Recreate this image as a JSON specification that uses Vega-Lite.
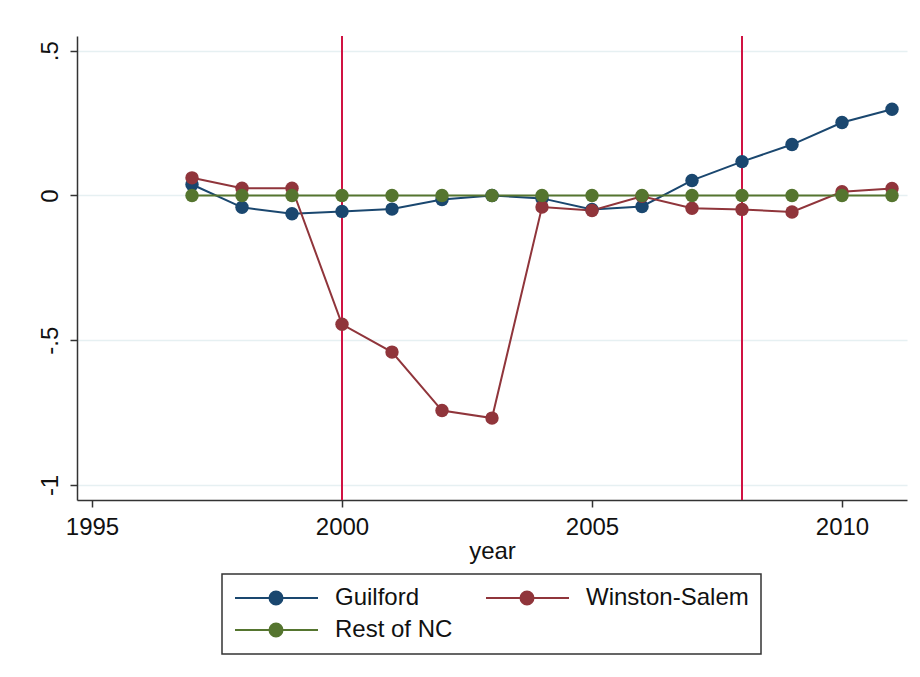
{
  "$schema": "https://vega.github.io/schema/vega-lite/v6.json",
  "width": 830,
  "height": 464,
  "autosize": {"type": "none"},
  "padding": {"left": 77, "top": 36, "right": 13, "bottom": 177},
  "background": "white",
  "config": {
    "font": "Liberation Sans",
    "view": {"stroke": null},
    "axis": {
      "labelFont": "Liberation Sans",
      "titleFont": "Liberation Sans",
      "labelFontSize": 24,
      "titleFontSize": 24,
      "labelColor": "#111111",
      "titleColor": "#111111",
      "titleFontWeight": "normal",
      "domainColor": "#333333",
      "domainWidth": 1.5,
      "tickColor": "#333333",
      "tickWidth": 1.5,
      "tickSize": 7
    },
    "legend": {
      "labelFont": "Liberation Sans",
      "labelFontSize": 24,
      "labelColor": "#111111"
    }
  },
  "datasets": {
    "series": [
      {"year": 1997, "group": "Guilford", "value": 0.038},
      {"year": 1998, "group": "Guilford", "value": -0.041},
      {"year": 1999, "group": "Guilford", "value": -0.063},
      {"year": 2000, "group": "Guilford", "value": -0.055},
      {"year": 2001, "group": "Guilford", "value": -0.047},
      {"year": 2002, "group": "Guilford", "value": -0.014},
      {"year": 2003, "group": "Guilford", "value": 0.0},
      {"year": 2004, "group": "Guilford", "value": -0.01},
      {"year": 2005, "group": "Guilford", "value": -0.048},
      {"year": 2006, "group": "Guilford", "value": -0.038},
      {"year": 2007, "group": "Guilford", "value": 0.052},
      {"year": 2008, "group": "Guilford", "value": 0.117},
      {"year": 2009, "group": "Guilford", "value": 0.176},
      {"year": 2010, "group": "Guilford", "value": 0.252},
      {"year": 2011, "group": "Guilford", "value": 0.298},
      {"year": 1997, "group": "Winston-Salem", "value": 0.061},
      {"year": 1998, "group": "Winston-Salem", "value": 0.025},
      {"year": 1999, "group": "Winston-Salem", "value": 0.025},
      {"year": 2000, "group": "Winston-Salem", "value": -0.445},
      {"year": 2001, "group": "Winston-Salem", "value": -0.541},
      {"year": 2002, "group": "Winston-Salem", "value": -0.743},
      {"year": 2003, "group": "Winston-Salem", "value": -0.769},
      {"year": 2004, "group": "Winston-Salem", "value": -0.04},
      {"year": 2005, "group": "Winston-Salem", "value": -0.052},
      {"year": 2006, "group": "Winston-Salem", "value": -0.003},
      {"year": 2007, "group": "Winston-Salem", "value": -0.044},
      {"year": 2008, "group": "Winston-Salem", "value": -0.048},
      {"year": 2009, "group": "Winston-Salem", "value": -0.057},
      {"year": 2010, "group": "Winston-Salem", "value": 0.013},
      {"year": 2011, "group": "Winston-Salem", "value": 0.024},
      {"year": 1997, "group": "Rest of NC", "value": 0},
      {"year": 1998, "group": "Rest of NC", "value": 0},
      {"year": 1999, "group": "Rest of NC", "value": 0},
      {"year": 2000, "group": "Rest of NC", "value": 0},
      {"year": 2001, "group": "Rest of NC", "value": 0},
      {"year": 2002, "group": "Rest of NC", "value": 0},
      {"year": 2003, "group": "Rest of NC", "value": 0},
      {"year": 2004, "group": "Rest of NC", "value": 0},
      {"year": 2005, "group": "Rest of NC", "value": 0},
      {"year": 2006, "group": "Rest of NC", "value": 0},
      {"year": 2007, "group": "Rest of NC", "value": 0},
      {"year": 2008, "group": "Rest of NC", "value": 0},
      {"year": 2009, "group": "Rest of NC", "value": 0},
      {"year": 2010, "group": "Rest of NC", "value": 0},
      {"year": 2011, "group": "Rest of NC", "value": 0}
    ],
    "events": [{"year": 2000}, {"year": 2008}]
  },
  "layer": [
    {
      "data": {"name": "events"},
      "mark": {"type": "rule", "color": "#d01242", "strokeWidth": 2},
      "encoding": {
        "x": {"field": "year", "type": "quantitative"}
      }
    },
    {
      "data": {"name": "series"},
      "mark": {"type": "line", "strokeWidth": 2, "point": {"filled": true, "size": 180, "opacity": 1}},
      "encoding": {
        "x": {
          "field": "year",
          "type": "quantitative",
          "title": "year",
          "scale": {"domain": [1994.7, 2011.3], "nice": false, "zero": false},
          "axis": {
            "values": [1995, 2000, 2005, 2010],
            "format": "d",
            "grid": false,
            "labelPadding": 8,
            "titlePadding": 0
          }
        },
        "y": {
          "field": "value",
          "type": "quantitative",
          "title": null,
          "scale": {"domain": [-1.052, 0.551], "nice": false, "zero": false},
          "axis": {
            "values": [-1, -0.5, 0, 0.5],
            "labelExpr": "datum.value == 0 ? '0' : (datum.value < 0 ? '-' : '') + (abs(datum.value) == 1 ? '1' : '.5')",
            "labelAngle": 270,
            "labelAlign": "center",
            "labelBaseline": "bottom",
            "labelPadding": 8,
            "grid": true,
            "gridColor": "#e6f0f2",
            "gridWidth": 1.5
          }
        },
        "color": {
          "field": "group",
          "type": "nominal",
          "sort": ["Guilford", "Winston-Salem", "Rest of NC"],
          "scale": {
            "domain": ["Guilford", "Winston-Salem", "Rest of NC"],
            "range": ["#1a476f", "#90353b", "#55752f"]
          },
          "legend": {
            "title": null,
            "orient": "none",
            "legendX": 145,
            "legendY": 538,
            "direction": "horizontal",
            "columns": 2,
            "gridAlign": "each",
            "columnPadding": 29,
            "rowPadding": 8,
            "padding": 12,
            "strokeColor": "#333333",
            "fillColor": "white",
            "symbolType": "M-1.571,0L10.286,0M3.356,0A0.93,0.93,0,1,0,5.216,0A0.93,0.93,0,1,0,3.356,0Z",
            "symbolSize": 196,
            "symbolStrokeWidth": 2,
            "symbolOpacity": 1,
            "labelOffset": 77,
            "labelLimit": 300,
            "encode": {
              "legend": {"update": {"strokeWidth": {"value": 1.5}}}
            }
          }
        }
      }
    }
  ]
}
